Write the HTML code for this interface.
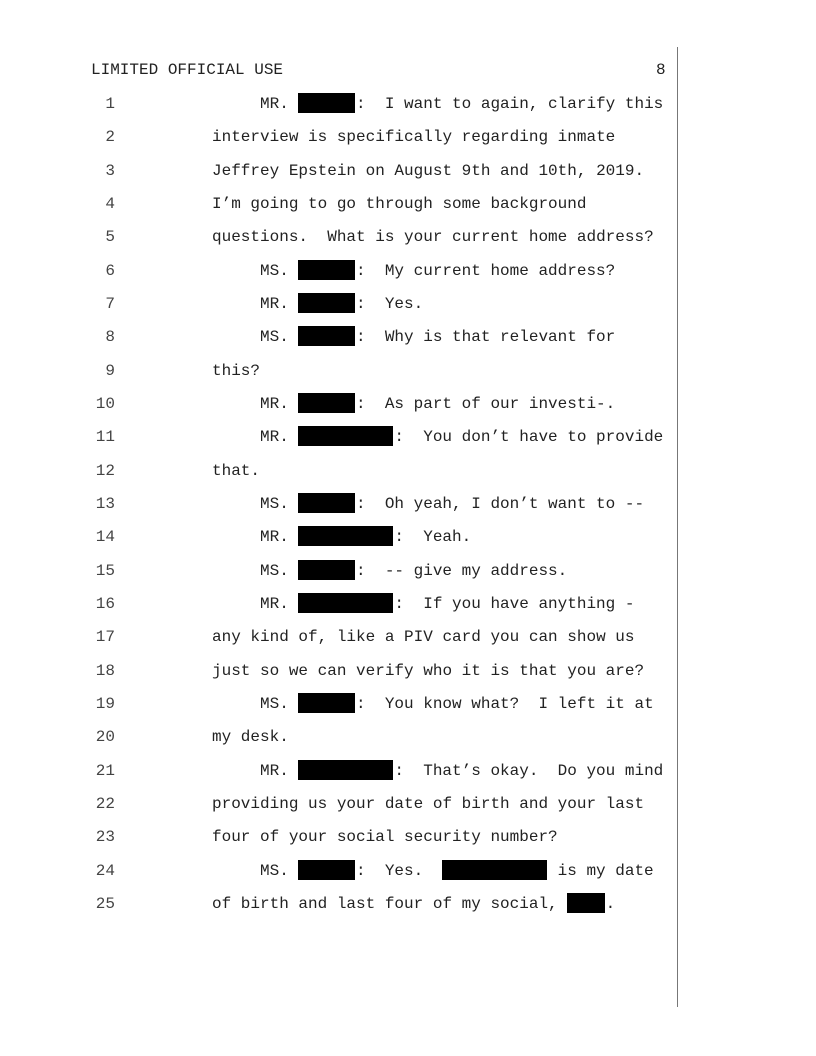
<!DOCTYPE html>
<html><head><meta charset="utf-8"><style>
body{margin:0;width:816px;height:1056px;background:#fff;position:relative;overflow:hidden;font-family:"Liberation Mono",monospace;font-size:16px;color:#222}
.l{position:absolute;height:34px;line-height:34px;white-space:pre}
.n{position:absolute;left:60px;width:55px;text-align:right;height:34px;line-height:34px;color:#444}
.b{display:inline-block;height:20px;background:#000;vertical-align:-5px}
.vl{position:absolute;left:677px;top:47px;width:1px;height:960px;background:#777}
</style></head><body>
<div class="l" style="left:91px;top:53px">LIMITED OFFICIAL USE</div>
<div class="l" style="left:656px;top:53px">8</div>
<div class="vl"></div>
<div id="c"></div>
<script>
const lines=[
"     MR. [6]:  I want to again, clarify this",
"interview is specifically regarding inmate",
"Jeffrey Epstein on August 9th and 10th, 2019.",
"I’m going to go through some background",
"questions.  What is your current home address?",
"     MS. [6]:  My current home address?",
"     MR. [6]:  Yes.",
"     MS. [6]:  Why is that relevant for",
"this?",
"     MR. [6]:  As part of our investi-.",
"     MR. [10]:  You don’t have to provide",
"that.",
"     MS. [6]:  Oh yeah, I don’t want to --",
"     MR. [10]:  Yeah.",
"     MS. [6]:  -- give my address.",
"     MR. [10]:  If you have anything -",
"any kind of, like a PIV card you can show us",
"just so we can verify who it is that you are?",
"     MS. [6]:  You know what?  I left it at",
"my desk.",
"     MR. [10]:  That’s okay.  Do you mind",
"providing us your date of birth and your last",
"four of your social security number?",
"     MS. [6]:  Yes.  [11] is my date",
"of birth and last four of my social, [4]."
];
let h="";
lines.forEach((t,i)=>{
 const top=104+i*33.333-17;
 const s=t.replace(/&/g,"&amp;").replace(/\[(\d+)\]/g,(m,n)=>`<span class="b" style="width:${n*9.6-1}px;margin-right:1px"></span>`);
 h+=`<div class="n" style="top:${top}px">${i+1}</div><div class="l" style="left:212px;top:${top}px">${s}</div>`;
});
document.getElementById("c").innerHTML=h;
</script>
</body></html>
